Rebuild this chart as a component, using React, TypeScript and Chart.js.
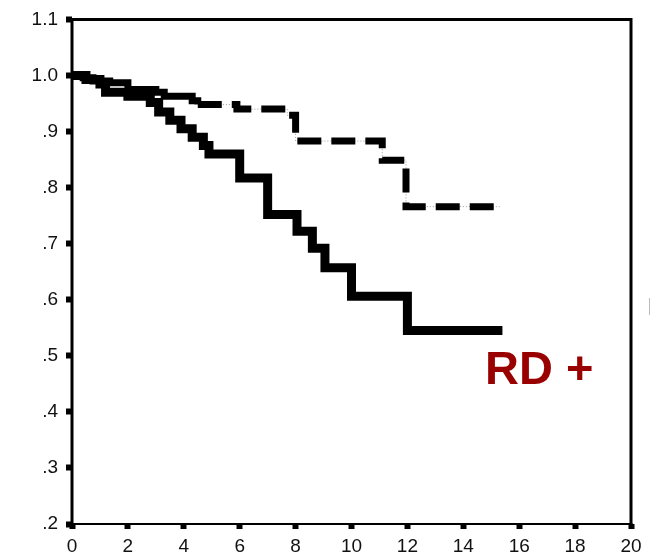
import React, { useEffect, useRef } from "react";
import { Chart, registerables } from "chart.js";

Chart.register(...registerables);

// RD+ group (solid line): time (x) and cumulative survival (y), step points
const rdPosTime = [0, 0.5, 1.0, 1.2, 2.0, 2.8, 3.1, 3.5, 3.9, 4.3, 4.7, 4.9, 6.0, 7.0, 8.05, 8.6, 9.05, 10.0, 12.0, 15.4];
const rdPosSurv = [1.0, 0.993, 0.985, 0.97, 0.963, 0.952, 0.935, 0.92, 0.905, 0.89, 0.875, 0.86, 0.817, 0.752, 0.722, 0.692, 0.657, 0.606, 0.545, 0.545];

// RD- group (dashed line)
const rdNegTime = [0, 0.4, 0.75, 1.35, 2.0, 3.0, 3.3, 4.3, 4.5, 5.9, 7.7, 8.0, 11.1, 11.95, 15.3];
const rdNegSurv = [1.0, 0.996, 0.99, 0.987, 0.975, 0.97, 0.963, 0.955, 0.948, 0.94, 0.929, 0.883, 0.849, 0.766, 0.766];

// axis ticks
const xTicks = [0, 2, 4, 6, 8, 10, 12, 14, 16, 18, 20];
const yTickLabels: Record<number, string> = {
  2: ".2", 3: ".3", 4: ".4", 5: ".5", 6: ".6", 7: ".7", 8: ".8", 9: ".9", 10: "1.0", 11: "1.1",
};

const annotationText = "RD +";

const FONT = "'Liberation Sans', Arial, sans-serif";

const framePlugin = {
  id: "frameAndLabel",
  afterDatasetsDraw(chart: any) {
    const { ctx, chartArea, scales } = chart;
    ctx.save();
    ctx.strokeStyle = "#000";
    ctx.lineWidth = 3;
    ctx.beginPath();
    ctx.moveTo(chartArea.left, chartArea.bottom);
    ctx.lineTo(chartArea.left, chartArea.top);
    ctx.lineTo(chartArea.right, chartArea.top);
    ctx.lineTo(chartArea.right, chartArea.bottom);
    ctx.stroke();
    ctx.lineWidth = 2;
    ctx.beginPath();
    ctx.moveTo(chartArea.left - 1, chartArea.bottom);
    ctx.lineTo(chartArea.right + 1.5, chartArea.bottom);
    ctx.stroke();

    const x = scales.x.getPixelForValue(14.78);
    const y = scales.y.getPixelForValue(0.45);
    ctx.fillStyle = "#990000";
    ctx.font = `bold 47px ${FONT}`;
    ctx.textAlign = "left";
    ctx.textBaseline = "alphabetic";
    ctx.fillText(annotationText, x, y);

    ctx.strokeStyle = "#bbbbbb";
    ctx.lineWidth = 1;
    ctx.beginPath();
    ctx.moveTo(649.5, 298);
    ctx.lineTo(649.5, 315);
    ctx.stroke();
    ctx.restore();
  },
};

export default function App() {
  const ref = useRef<HTMLCanvasElement | null>(null);

  useEffect(() => {
    if (!ref.current) return;
    const solid = rdPosTime.map((t, i) => ({ x: t, y: rdPosSurv[i] }));
    const dashed = rdNegTime.map((t, i) => ({ x: t, y: rdNegSurv[i] }));

    const chart = new Chart(ref.current, {
      type: "line",
      data: {
        datasets: [
          {
            label: "RD +",
            data: solid,
            stepped: "before",
            borderColor: "#000",
            borderWidth: 9,
            borderCapStyle: "butt",
            borderJoinStyle: "miter",
            pointRadius: 0,
            fill: false,
            order: 0,
          },
          {
            label: "RD -",
            data: dashed,
            stepped: "before",
            borderColor: "#000",
            borderWidth: 7,
            borderCapStyle: "butt",
            borderJoinStyle: "miter",
            pointRadius: 0,
            fill: false,
            order: 1,
            segment: {
              borderDash: (c: any) => (c.p0.parsed.x >= 4.5 ? [24, 10] : undefined),
            },
          },
          {
            label: "RD - censor",
            data: dashed,
            stepped: "before",
            borderColor: "#999",
            borderWidth: 1,
            borderDash: [1, 2],
            pointRadius: 0,
            fill: false,
            order: 2,
          },
        ] as any,
      },
      options: {
        animation: false,
        responsive: false,
        maintainAspectRatio: false,
        layout: { padding: { top: 17, right: 22, left: 0, bottom: 0 } },
        plugins: { legend: { display: false }, tooltip: { enabled: false } },
        scales: {
          x: {
            type: "linear",
            min: 0,
            max: 20,
            afterBuildTicks: (s: any) => {
              s.ticks = xTicks.map((v) => ({ value: v }));
            },
            afterFit: (s: any) => {
              s.height = 31;
            },
            border: { display: false },
            grid: {
              drawOnChartArea: false,
              drawTicks: true,
              tickLength: 5,
              tickWidth: 6,
              tickColor: "#000",
            },
            ticks: {
              color: "#111",
              font: { family: FONT, size: 19 },
              padding: 6,
              maxRotation: 0,
              callback: (v: any) => String(v),
            },
          },
          y: {
            type: "linear",
            min: 0.2,
            max: 1.1,
            afterBuildTicks: (s: any) => {
              s.ticks = Object.keys(yTickLabels).map((k) => ({ value: Number(k) / 10 }));
            },
            afterFit: (s: any) => {
              s.width = 72;
            },
            border: { display: false },
            grid: {
              drawOnChartArea: false,
              drawTicks: true,
              tickLength: 6,
              tickWidth: 6,
              tickColor: "#000",
            },
            ticks: {
              color: "#111",
              font: { family: FONT, size: 19 },
              padding: 8,
              callback: (v: any) => yTickLabels[Math.round(Number(v) * 10)] ?? "",
            },
          },
        },
      },
      plugins: [framePlugin],
    } as any);
    return () => chart.destroy();
  }, []);

  return (
    <div style={{ position: "fixed", left: 0, top: 0, width: 653, height: 555, background: "#fff" }}>
      <canvas ref={ref} width={653} height={555} style={{ width: 653, height: 555, display: "block" }} />
    </div>
  );
}
